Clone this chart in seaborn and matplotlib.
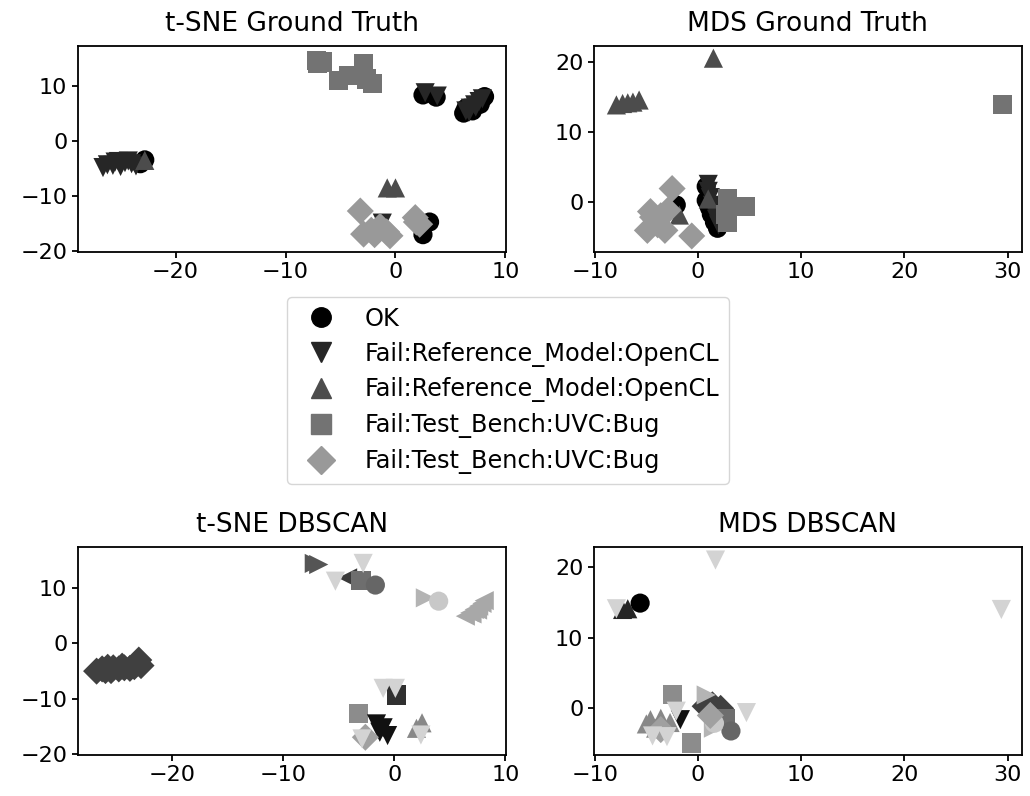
import matplotlib
matplotlib.use("Agg")
import matplotlib.pyplot as plt
from matplotlib.lines import Line2D
import pandas as pd
import seaborn as sns

# ---- ground-truth classes -------------------------------------------------
class_ids = ["ok", "ref_down", "ref_up", "tb_square", "tb_diamond"]
class_labels = ["OK",
                "Fail:Reference_Model:OpenCL",
                "Fail:Reference_Model:OpenCL",
                "Fail:Test_Bench:UVC:Bug",
                "Fail:Test_Bench:UVC:Bug"]
class_markers = ["o", "v", "^", "s", "D"]
class_colors = ["#000000", "#262626", "#4c4c4c", "#737373", "#999999"]

# t-SNE embedding, ground truth labels
tsne_gt_x = [-22.8, -23.2, 2.5, 3.7,
             6.2, 6.5, 6.9, 7.3, 7.6, 7.9, 8.1, 6.4, 7.0, 7.7,
             3.1, 2.5,
             -26.6, -26.2, -25.7, -25.2, -24.6, -24.0, -23.6, -25.0, -24.3, -25.5,
             2.7, 3.8,
             6.4, 6.8, 7.2, 7.6, 7.9, 6.7, 7.3,
             -1.2,
             -22.8, -0.75, 0.0,
             -7.2, -6.9, -6.6, -7.1, -2.9, -5.2, -4.3, -3.6, -2.6, -2.1,
             -3.2, -2.9, -2.2, -1.4, -0.8, -0.5, -1.9, 1.8, 2.2, 1.9]
tsne_gt_y = [-3.5, -4.2, 8.3, 7.9,
             5.0, 5.5, 6.0, 6.6, 7.1, 7.6, 8.0, 5.9, 5.4, 6.6,
             -14.8, -17.1,
             -4.9, -4.4, -4.5, -3.8, -4.0, -4.2, -4.6, -4.7, -3.7, -3.9,
             8.7, 8.1,
             5.4, 5.9, 6.5, 7.1, 7.6, 5.2, 6.1,
             -15.0,
             -3.6, -8.6, -8.6,
             14.5, 14.2, 14.4, 14.0, 14.0, 11.0, 11.9, 11.8, 11.2, 10.4,
             -12.8, -17.0, -16.3, -15.6, -16.6, -17.3, -17.1, -14.0, -15.2, -14.8]
tsne_gt_cls = (["ok"] * 16 + ["ref_down"] * 20 + ["ref_up"] * 3
               + ["tb_square"] * 10 + ["tb_diamond"] * 10)

# MDS embedding, ground truth labels
mds_gt_x = [0.8, 0.8, 1.1, 1.3, 1.6, 1.9, -2.1,
            1.0, 1.0, 1.2, 1.4, 1.6, 1.8, 2.0,
            -7.9, -7.3, -6.8, -6.3, -5.7, 1.5, 1.0, -1.8,
            29.5, 4.6, 2.9, 2.9, 2.9, 2.9, 2.9, 2.7,
            -2.5, -4.6, -4.9, -3.2, -4.1, -2.9, -3.6, -0.6, -3.9, -4.4]
mds_gt_y = [2.2, 0.2, -0.8, -1.8, -2.9, -3.8, -0.45,
            2.5, 1.5, 0.6, -0.5, -1.5, -2.5, -3.3,
            13.9, 14.1, 14.2, 14.3, 14.6, 20.6, 0.4, -1.9,
            13.9, -0.7, 0.4, -0.5, -1.4, -2.2, -3.0, -1.8,
            1.9, -1.4, -4.1, -4.1, -2.6, -1.2, -2.0, -4.9, -3.3, -2.2]
mds_gt_cls = (["ok"] * 7 + ["ref_down"] * 7 + ["ref_up"] * 8
              + ["tb_square"] * 8 + ["tb_diamond"] * 10)

# ---- DBSCAN clusters ------------------------------------------------------
cluster_ids = ["c0", "c1", "c2", "c3", "c4", "c5", "c6", "c7",
               "c8", "c9", "c10", "c11", "c12", "c13", "c14", "noise"]
cluster_markers = ["D", ">", "<", "s", "o", ">", "o", "<",
                   "s", "^", "s", "v", "^", "D", "o", "v"]
cluster_colors = ["#404040", "#555555", "#3a3a3a", "#6e6e6e", "#666666",
                  "#b4b4b4", "#c8c8c8", "#a8a8a8", "#303030", "#262626",
                  "#8c8c8c", "#111111", "#888888", "#a0a0a0", "#000000",
                  "#d3d3d3"]

# t-SNE embedding, DBSCAN labels
tsne_db_x = [-26.8, -26.3, -25.8, -25.3, -24.8, -24.3, -23.8, -23.4, -23.0, -22.8,
             -25.5, -24.5, -26.0,
             -7.2, -6.8,
             -4.2,
             -3.0,
             -1.7,
             2.8,
             4.0,
             6.4, 6.8, 7.2, 7.6, 7.9, 8.1, 7.0, 7.5,
             0.2,
             -3.2,
             -1.6, -1.0, -0.6, -1.3,
             2.0, 2.5,
             -2.6,
             -2.8, -5.3, -1.0, 0.1, -2.9, 2.4]
tsne_db_y = [-5.0, -4.6, -4.3, -4.4, -4.6, -4.4, -4.5, -4.2, -3.0, -4.0,
             -4.9, -4.1, -4.9,
             14.4, 14.2,
             11.8,
             11.3,
             10.5,
             8.2,
             7.6,
             4.9, 5.5, 6.1, 6.7, 7.2, 7.7, 5.3, 6.0,
             -9.3,
             -12.7,
             -14.5, -15.2, -16.6, -16.0,
             -15.3, -14.3,
             -16.9,
             14.4, 11.2, -8.1, -8.1, -17.2, -16.5]
tsne_db_cls = (["c0"] * 13 + ["c1"] * 2 + ["c2"] + ["c3"] + ["c4"] + ["c5"]
               + ["c6"] + ["c7"] * 8 + ["c8"] + ["c10"] + ["c11"] * 4
               + ["c12"] * 2 + ["c13"] + ["noise"] * 6)

# MDS embedding, DBSCAN labels
mds_db_x = [0.7, 1.4, 2.2,
            2.7,
            3.2,
            0.8, 1.5,
            1.6,
            -6.8, -7.3,
            -2.5, -0.6,
            -1.7,
            -4.6, -3.6, -2.7, -4.1, -5.0,
            -3.6, 1.2,
            -5.6,
            -7.9, 1.7, 29.4, 4.7, -2.1, -4.4, -3.0]
mds_db_y = [0.3, 0.5, 0.0,
            -1.5,
            -3.2,
            1.9, -2.8,
            -2.1,
            14.1, 14.0,
            2.0, -4.9,
            -1.6,
            -1.6, -1.4, -2.0, -2.8, -2.2,
            -3.0, -1.0,
            14.9,
            14.1, 21.0, 14.0, -0.6, -0.4, -3.9, -4.0]
mds_db_cls = (["c0"] * 3 + ["c3"] + ["c4"] + ["c5"] * 2 + ["c6"] + ["c9"] * 2
              + ["c10"] * 2 + ["c11"] + ["c12"] * 5 + ["c13"] * 2 + ["c14"]
              + ["noise"] * 7)

# ---- styling --------------------------------------------------------------
sns.set_style("ticks")
plt.rcParams.update({
    "font.family": ["DejaVu Sans"],
    "text.color": "black",
    "axes.edgecolor": "black",
    "axes.labelcolor": "black",
    "xtick.color": "black",
    "ytick.color": "black",
    "axes.linewidth": 1.3,
    "xtick.major.width": 1.3,
    "ytick.major.width": 1.3,
    "xtick.major.size": 4,
    "ytick.major.size": 4,
    "xtick.labelsize": 16,
    "ytick.labelsize": 16,
    "axes.titlesize": 19,
})

fig = plt.figure(figsize=(10.3, 7.96), dpi=100)
W, H = 1030.0, 796.0


def add_axes(left, top, right, bottom):
    return fig.add_axes([left / W, 1 - bottom / H, (right - left) / W, (bottom - top) / H])


ax_tsne_gt = add_axes(77.7, 46, 506, 252)
ax_mds_gt = add_axes(593.7, 46, 1022, 252)
ax_tsne_db = add_axes(77.7, 547.3, 506, 755)
ax_mds_db = add_axes(593.7, 547.3, 1022, 755)

gt_palette = dict(zip(class_ids, class_colors))
gt_markers = dict(zip(class_ids, class_markers))
db_palette = dict(zip(cluster_ids, cluster_colors))
db_markers = dict(zip(cluster_ids, cluster_markers))

PT_SIZE = 190


def draw(ax, xs, ys, cls, order, palette, markers, title):
    df = pd.DataFrame({"x": xs, "y": ys, "cls": cls})
    df["rank"] = df["cls"].map({c: i for i, c in enumerate(order)})
    df = df.sort_values("rank", kind="stable")
    present = [c for c in order if c in set(cls)]
    sns.scatterplot(data=df, x="x", y="y", hue="cls", style="cls",
                    hue_order=present, style_order=present,
                    palette=palette, markers=markers, s=PT_SIZE,
                    linewidth=0, legend=False, ax=ax)
    ax.set_xlabel("")
    ax.set_ylabel("")
    ax.set_title(title, pad=11)


draw(ax_tsne_gt, tsne_gt_x, tsne_gt_y, tsne_gt_cls, class_ids,
     gt_palette, gt_markers, "t-SNE Ground Truth")
draw(ax_mds_gt, mds_gt_x, mds_gt_y, mds_gt_cls, class_ids,
     gt_palette, gt_markers, "MDS Ground Truth")
draw(ax_tsne_db, tsne_db_x, tsne_db_y, tsne_db_cls, cluster_ids,
     db_palette, db_markers, "t-SNE DBSCAN")
draw(ax_mds_db, mds_db_x, mds_db_y, mds_db_cls, cluster_ids,
     db_palette, db_markers, "MDS DBSCAN")

ax_tsne_gt.set_xlim(-28.9, 10.05)
ax_tsne_gt.set_ylim(-20.25, 17.2)
ax_tsne_db.set_xlim(-28.5, 10.06)
ax_tsne_db.set_ylim(-20.1, 17.3)
ax_mds_gt.set_xlim(-10.1, 31.4)
ax_mds_gt.set_ylim(-7.2, 22.35)
ax_mds_db.set_xlim(-10.1, 31.4)
ax_mds_db.set_ylim(-6.6, 22.8)

for ax in (ax_tsne_gt, ax_tsne_db):
    ax.set_xticks([-20, -10, 0, 10])
    ax.set_yticks([-20, -10, 0, 10])
for ax in (ax_mds_gt, ax_mds_db):
    ax.set_xticks([-10, 0, 10, 20, 30])
    ax.set_yticks([0, 10, 20])

handles = [Line2D([], [], marker=m, color=c, linestyle="none", markersize=14)
           for m, c in zip(class_markers, class_colors)]
fig.legend(handles, class_labels, loc="center", bbox_to_anchor=(508 / W, 1 - 390.5 / H),
           fontsize=17.3, frameon=True, edgecolor="0.8", fancybox=True,
           labelspacing=0.45, borderpad=0.4, handletextpad=0.8)

fig.savefig("out.png", dpi=100)
